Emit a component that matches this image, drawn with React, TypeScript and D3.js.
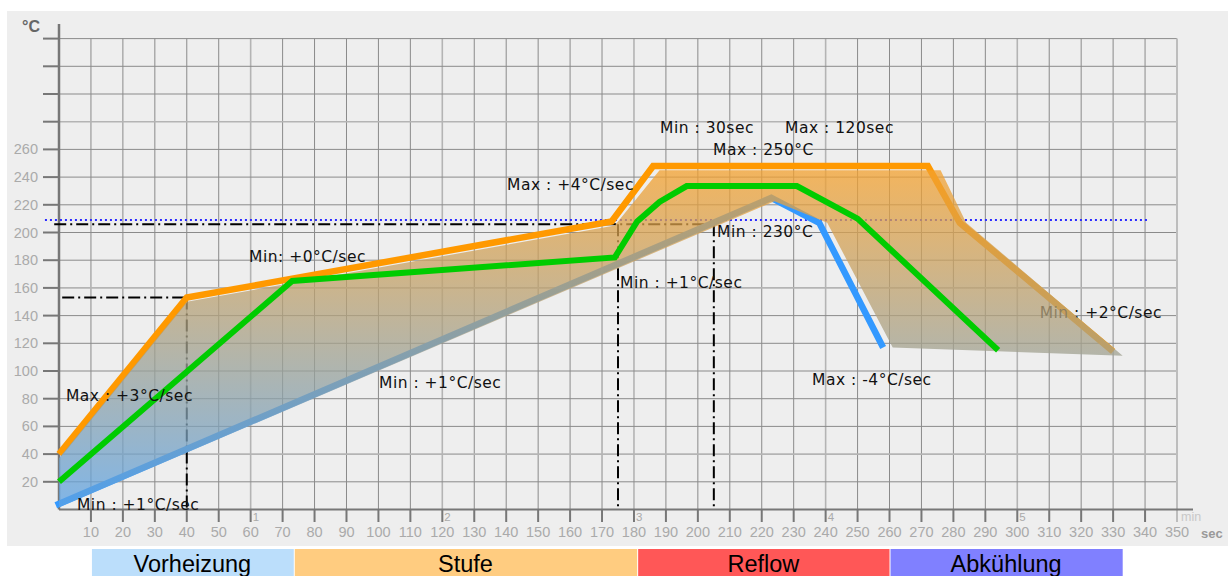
import React from "react";
import * as d3 from "d3";

// reflow profile, time in sec, temperature in °C
const maxProfile: [number, number][] = [
  [0, 40], [40, 153], [173, 208], [186, 248], [272, 248], [282, 207], [330, 114],
];
const minProfile: [number, number][] = [
  [-1, 3], [223, 225], [238, 207], [258, 117],
];
const typicalProfile: [number, number][] = [
  [0, 20], [73, 165], [174, 182], [181, 208], [188, 222], [196.5, 233.5],
  [231, 233.5], [250, 210], [294, 115],
];
// shaded process window
const processWindow: [number, number][] = [
  [0, 37], [40, 150], [174, 205], [188, 245], [276, 245], [284, 207], [333, 111],
  [261, 117], [240.5, 207], [224, 222.5], [0, 1.6],
];

const xTicks = d3.range(10, 360, 10);
const yTicks = d3.range(20, 360, 20);
const yLabels = d3.range(20, 280, 20);
const minuteMarks = [1, 2, 3, 4, 5];

const liquidus = 209;
const guideTemp = 206;
const soakTemp = 153;
const guideTimes = [175, 205];
const soakEnd = 40;

const phases = ["Vorheizung", "Stufe", "Reflow", "Abkühlung"];
const phaseBounds = [10, 73.5, 181, 260, 333];
const phaseColors = ["#bbdefb", "#ffcc80", "#ff5757", "#8080ff"];

const notesBelow = [{ t: 307, v: 138, text: "Min : +2°C/sec" }];
const notes = [
  { t: objT(249), v: 179, text: "Min: +0°C/sec" },
  { t: objT(507), v: 231, text: "Max : +4°C/sec" },
  { t: objT(660), v: 272, text: "Min : 30sec" },
  { t: objT(785), v: 272, text: "Max : 120sec" },
  { t: objT(713), v: 256, text: "Max : 250°C" },
  { t: objT(717), v: 197, text: "Min : 230°C" },
  { t: objT(620), v: 160, text: "Min : +1°C/sec" },
  { t: objT(379), v: 88, text: "Min : +1°C/sec" },
  { t: objT(66), v: 78, text: "Max : +3°C/sec" },
  { t: objT(77), v: 0, text: "Min : +1°C/sec" },
  { t: objT(812), v: 90, text: "Max : -4°C/sec" },
];
function objT(px: number) {
  return (px - 59) / 3.194;
}

const W = 1228;
const H = 576;

export default function App() {
  const x = d3.scaleLinear().domain([0, 350]).range([59, 1177]);
  const y = d3.scaleLinear().domain([0, 340]).range([509.5, 38.6]);
  const line = d3
    .line<[number, number]>()
    .x((d) => x(d[0]))
    .y((d) => y(d[1]));
  const area = d3
    .line<[number, number]>()
    .x((d) => x(d[0]))
    .y((d) => y(d[1]))
    .curve(d3.curveLinearClosed);

  const dashDot = "12,4,2,4";
  const textStyle = {
    fontFamily: "DejaVu Sans, Verdana, sans-serif",
    fontSize: 15.5,
    letterSpacing: 0.5,
  };
  const axisFont = { fontFamily: "Liberation Sans, Arial, sans-serif", fontSize: 14.5 };

  return (
    <svg
      width={W}
      height={H}
      style={{ position: "absolute", left: 0, top: 0, background: "#fff" }}
    >
      <defs>
        <linearGradient id="win" gradientUnits="userSpaceOnUse" x1={0} x2={0} y1={y(250)} y2={y(0)}>
          <stop offset="0%" stopColor="#f7a12a" />
          <stop offset="100%" stopColor="#5aa2e6" />
        </linearGradient>
      </defs>
      <rect x={7} y={11} width={W - 7} height={535} fill="#eeeeee" />

      {/* grid */}
      {xTicks.slice(0, -1).map((t) => (
        <line
          key={"gx" + t}
          x1={x(t)}
          x2={x(t)}
          y1={y(340)}
          y2={y(0)}
          stroke={t % 60 === 0 ? "#b4b4b4" : "#8a8a8a"}
          strokeWidth={t % 60 === 0 ? 1.6 : 1}
        />
      ))}
      {yTicks.map((v) => (
        <line
          key={"gy" + v}
          x1={x(0)}
          x2={x(350)}
          y1={y(v)}
          y2={y(v)}
          stroke={(v - 40) % 120 === 0 ? "#b4b4b4" : "#8a8a8a"}
          strokeWidth={(v - 40) % 120 === 0 ? 1.6 : 1}
        />
      ))}
      <line x1={x(350)} x2={x(350)} y1={y(340)} y2={522} stroke="#bdbdbd" strokeWidth={2} />

      {/* axes */}
      <line x1={x(0)} x2={x(0)} y1={24} y2={y(0)} stroke="#777" strokeWidth={2.5} />
      <line x1={x(0)} x2={1193} y1={y(0)} y2={y(0)} stroke="#777" strokeWidth={2} />
      {yTicks.map((v) => (
        <line key={"ty" + v} x1={43} x2={x(0)} y1={y(v)} y2={y(v)} stroke="#777" strokeWidth={2} />
      ))}
      {yLabels.map((v) => (
        <text key={"ly" + v} x={38} y={y(v) + 5} textAnchor="end" fill="#aaa" style={axisFont}>
          {v}
        </text>
      ))}
      {xTicks.slice(0, -1).map((t) => (
        <line key={"tx" + t} x1={x(t)} x2={x(t)} y1={y(0)} y2={522} stroke="#777" strokeWidth={2} />
      ))}
      {xTicks.map((t) => (
        <text key={"lx" + t} x={x(t)} y={537} textAnchor="middle" fill="#aaa" style={axisFont}>
          {t}
        </text>
      ))}
      {minuteMarks.map((m) => (
        <text
          key={"m" + m}
          x={x(m * 60) + 2}
          y={521}
          fill="#aaa"
          style={{ fontFamily: "Liberation Sans, Arial, sans-serif", fontSize: 11.5 }}
        >
          {m}
        </text>
      ))}
      <text x={1181} y={521} fill="#c8c8c8" style={{ fontFamily: "Liberation Sans, Arial, sans-serif", fontSize: 12.5 }}>
        min
      </text>
      <text x={1201} y={538} fill="#999" fontWeight="bold" style={{ fontFamily: "Liberation Sans, Arial, sans-serif", fontSize: 13 }}>
        sec
      </text>
      <text x={22} y={32} fill="#666" fontWeight="bold" style={{ fontFamily: "Liberation Sans, Arial, sans-serif", fontSize: 16 }}>
        °C
      </text>

      {/* reference lines */}
      <line
        x1={x(-4.4)}
        x2={x(341)}
        y1={y(liquidus)}
        y2={y(liquidus)}
        stroke="#2b2bff"
        strokeWidth={2}
        strokeDasharray="2,3"
      />
      <line x1={x(-1.5)} x2={x(205)} y1={y(guideTemp)} y2={y(guideTemp)} stroke="#000" strokeWidth={2} strokeDasharray={dashDot} />
      {guideTimes.map((t) => (
        <line key={"gt" + t} x1={x(t)} x2={x(t)} y1={y(guideTemp)} y2={y(0)} stroke="#000" strokeWidth={2} strokeDasharray={dashDot} />
      ))}
      <line x1={x(1)} x2={x(soakEnd)} y1={y(soakTemp)} y2={y(soakTemp)} stroke="#000" strokeWidth={2} strokeDasharray={dashDot} />
      <line x1={x(soakEnd)} x2={x(soakEnd)} y1={y(soakTemp)} y2={y(0)} stroke="#000" strokeWidth={2} strokeDasharray={dashDot} />

      {/* profiles under the window */}
      <path d={line(minProfile) ?? ""} fill="none" stroke="#3399ff" strokeWidth={6.5} strokeLinejoin="miter" />
      <path d={line(maxProfile) ?? ""} fill="none" stroke="#ff9900" strokeWidth={6.5} strokeLinejoin="miter" />
      {notesBelow.map((n, i) => (
        <text key={"nb" + i} x={x(n.t)} y={y(n.v)} fill="#111" style={textStyle}>
          {n.text}
        </text>
      ))}

      <path d={area(processWindow) ?? ""} fill="url(#win)" fillOpacity={0.75} />

      <path d={line(typicalProfile) ?? ""} fill="none" stroke="#00cc00" strokeWidth={6} strokeLinejoin="miter" />

      {notes.map((n, i) => (
        <text key={"n" + i} x={x(n.t)} y={y(n.v)} fill="#111" style={textStyle}>
          {n.text}
        </text>
      ))}

      {/* phases */}
      {phases.map((p, i) => (
        <g key={p}>
          <rect
            x={x(phaseBounds[i]) + 1}
            y={549}
            width={x(phaseBounds[i + 1]) - x(phaseBounds[i]) - 1}
            height={30}
            fill={phaseColors[i]}
          />
          <text
            x={(x(phaseBounds[i]) + x(phaseBounds[i + 1])) / 2}
            y={572}
            textAnchor="middle"
            fill="#000"
            style={{ fontFamily: "Liberation Sans, Arial, sans-serif", fontSize: 23.5 }}
          >
            {p}
          </text>
        </g>
      ))}
    </svg>
  );
}
